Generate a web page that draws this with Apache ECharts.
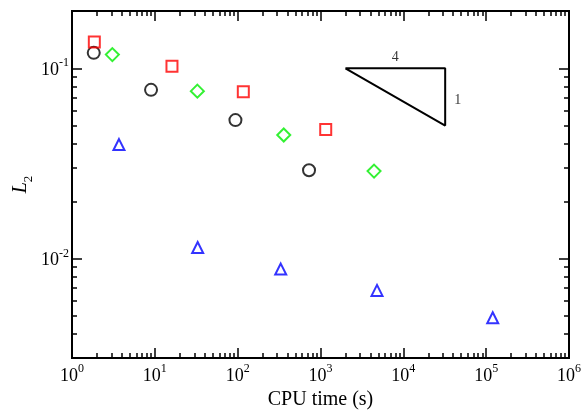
<!DOCTYPE html>
<html>
<head>
<meta charset="utf-8">
<script src="https://cdn.jsdelivr.net/npm/echarts@6/dist/echarts.min.js"></script>
<style>
  body { margin: 0; background: #fff; }
  #main { width: 581px; height: 411px; }
</style>
</head>
<body>
<div id="main"></div>
<script>
// data: [cpu time, L2]
const circles = [[1.83, 0.1205], [9.0, 0.077], [94, 0.0534], [727, 0.0291]];
const squares = [[1.86, 0.1374], [16.1, 0.1024], [117, 0.0752], [1156, 0.0476]];
const diamonds = [[3.07, 0.118], [32.6, 0.0758], [360, 0.0446], [4430, 0.0288]];
const triangles = [[3.69, 0.0397], [32.9, 0.01143], [331, 0.0088], [4810, 0.0068], [120000, 0.00488]];
// slope triangle (4 : 1)
const slope = [[2000, 0.1], [32000, 0.1], [32000, 0.05], [2000, 0.1]];

const xMajor = [1, 10, 100, 1000, 10000, 100000, 1000000];
const yMajor = [0.01, 0.1];
const xMinor = [];
for (let d = 1; d < 1000000; d *= 10) {
  for (let k = 2; k <= 9; k++) xMinor.push(k * d);
}
const yMinor = [0.003, 0.004, 0.005, 0.006, 0.007, 0.008, 0.009,
  0.02, 0.03, 0.04, 0.05, 0.06, 0.07, 0.08, 0.09, 0.2];

const serif = "Liberation Serif";

function powLabel(v) {
  const e = Math.round(Math.log10(v));
  return "{b|10}{sup|" + e + "}";
}
const labelRich = {
  b: { fontSize: 18, fontFamily: serif, color: "#000", verticalAlign: "bottom", lineHeight: 22 },
  sup: { fontSize: 12, fontFamily: serif, color: "#000", verticalAlign: "top", lineHeight: 22, padding: [0, 0, 6, 0] }
};

function makeAxis(pos, min, max, major, minor, main, margin) {
  const base = {
    type: "log",
    logBase: 10,
    min: min,
    max: max,
    position: pos,
    splitLine: { show: false },
    axisLine: { show: true, lineStyle: { color: "#000", width: 2 } }
  };
  const majorAxis = Object.assign({}, base, {
    axisTick: { show: true, inside: true, length: 10, customValues: major, lineStyle: { color: "#000", width: 1.5 } },
    axisLabel: main ? {
      show: true, customValues: major, formatter: powLabel, rich: labelRich,
      fontFamily: serif, fontSize: 18, color: "#000", margin: margin
    } : { show: false }
  });
  const minorAxis = Object.assign({}, base, {
    axisTick: { show: true, inside: true, length: 5, customValues: minor, lineStyle: { color: "#000", width: 1.5 } },
    axisLabel: { show: false }
  });
  return [majorAxis, minorAxis];
}

let xAxes = makeAxis("bottom", 1, 1000000, xMajor, xMinor, true, 5)
  .concat(makeAxis("top", 1, 1000000, xMajor, xMinor, false, 0));
let yAxes = makeAxis("left", 0.003, 0.2, yMajor, yMinor, true, 3)
  .concat(makeAxis("right", 0.003, 0.2, yMajor, yMinor, false, 0));

xAxes[0].name = "CPU time (s)";
xAxes[0].nameLocation = "middle";
xAxes[0].nameGap = 26;
xAxes[0].nameTextStyle = { fontFamily: serif, fontSize: 20, color: "#000" };
yAxes[0].name = "{i|L}{sub|2}";
yAxes[0].nameLocation = "middle";
yAxes[0].nameGap = 41;
yAxes[0].nameMoveOverlap = false;
yAxes[0].nameTextStyle = {
  color: "#000",
  rich: {
    i: { fontFamily: serif, fontStyle: "italic", fontSize: 20, color: "#000", lineHeight: 24, verticalAlign: "bottom" },
    sub: { fontFamily: serif, fontSize: 13, color: "#000", lineHeight: 24, verticalAlign: "bottom", padding: [0, 0, -4, 0] }
  }
};

function marker(name, symbol, size, color, data) {
  return {
    name: name,
    type: "scatter",
    symbol: symbol,
    symbolSize: size,
    data: data,
    itemStyle: { color: "rgba(0,0,0,0)", borderColor: color, borderWidth: 2 },
    z: 5
  };
}

let chart = echarts.init(document.getElementById("main"));
chart.setOption({
  animation: false,
  backgroundColor: "#fff",
  grid: { left: 72, right: 12, top: 11, bottom: 53, containLabel: false, outerBoundsMode: "none" },
  xAxis: xAxes,
  yAxis: yAxes,
  series: [
    marker("circle", "circle", 12, "#000", circles),
    marker("square", "rect", 11, "#ff0000", squares),
    marker("diamond", "diamond", 13, "#00ee00", diamonds),
    marker("triangle", "triangle", 11, "#0000ff", triangles),
    {
      type: "line",
      data: slope,
      symbol: "none",
      lineStyle: { color: "#000", width: 2 },
      z: 4
    },
    {
      type: "scatter",
      symbolSize: 0,
      data: [
        { value: [8000, 0.1], label: { show: true, formatter: "4", position: "top", distance: 4 } },
        { value: [32000, 0.068], label: { show: true, formatter: "1", position: "right", distance: 9 } }
      ],
      label: { fontFamily: serif, fontSize: 14, color: "#000" }
    }
  ]
});
</script>
</body>
</html>
